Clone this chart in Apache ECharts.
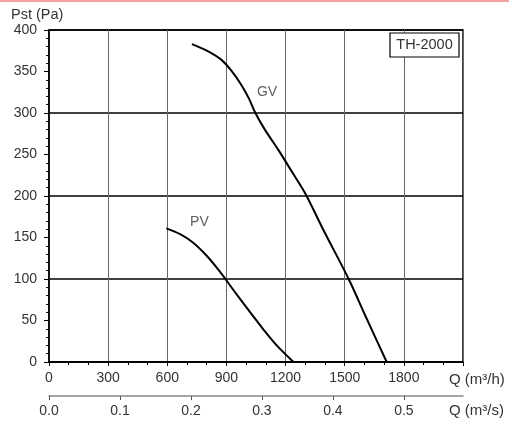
<!DOCTYPE html>
<html>
<head>
<meta charset="utf-8">
<script src="https://cdn.jsdelivr.net/npm/echarts@6/dist/echarts.min.js"></script>
<style>
html,body{margin:0;padding:0;background:#fff;}
#chart{width:509px;height:428px;}
</style>
</head>
<body>
<div id="chart"></div>
<script>
// Data
const flowTicks = [0, 300, 600, 900, 1200, 1500, 1800];          // Q (m3/h)
const flowSecTicks = [0.0, 0.1, 0.2, 0.3, 0.4, 0.5];             // Q (m3/s)
const gvFlow = [725, 810, 875, 925, 975, 1015, 1045, 1095, 1165, 1230, 1300, 1390, 1520, 1610, 1713];
const gvPressure = [383, 374, 364, 351, 334, 317, 301, 280, 255, 230, 203, 160, 100, 53, 0];
const pvFlow = [595, 665, 730, 800, 860, 895, 950, 1020, 1085, 1155, 1240];
const pvPressure = [161, 154, 144, 128, 111, 100, 82, 60, 40, 20, 0];
const curveLabels = ['GV', 'PV'];
const curveLabelFlow = [1106, 763];
const curveLabelPressure = [325, 168];
const modelName = 'TH-2000';

const FONT = 'Liberation Sans, Arial, sans-serif';
const TXT = '#333';
const xMax = 2100;

const zip = (a, b) => a.map((v, i) => [v, b[i]]);

const chart = echarts.init(document.getElementById('chart'), null, {renderer: 'canvas'});
chart.setOption({
  animation: false,
  backgroundColor: '#fff',
  grid: {left: 49, right: 46, top: 30, bottom: 66, show: true, borderColor: '#000', borderWidth: 1.5, backgroundColor: 'transparent'},
  xAxis: [
    {
      type: 'value', position: 'bottom', min: 0, max: xMax, interval: 300,
      axisLine: {show: true, onZero: false, lineStyle: {color: '#000', width: 1.5}},
      axisTick: {show: true, length: 4, lineStyle: {color: '#000'}},
      minorTick: {show: true, splitNumber: 3, length: 3, lineStyle: {color: '#000'}},
      axisLabel: {
        margin: 9, color: TXT, fontFamily: FONT, fontSize: 14,
        customValues: flowTicks,
        formatter: v => String(v)
      },
      splitLine: {show: true, lineStyle: {color: '#666', width: 1}}
    },
    {
      type: 'value', position: 'bottom', offset: 34, min: 0, max: xMax / 3600,
      axisLine: {show: true, onZero: false, lineStyle: {color: '#888', width: 1.5}},
      axisTick: {show: true, length: 4, customValues: flowSecTicks, lineStyle: {color: '#555'}},
      axisLabel: {
        margin: 8, color: TXT, fontFamily: FONT, fontSize: 14,
        customValues: flowSecTicks,
        formatter: v => v.toFixed(1)
      },
      splitLine: {show: false}
    }
  ],
  yAxis: [
    {
      type: 'value', min: 0, max: 400, interval: 50,
      axisLine: {show: true, onZero: false, lineStyle: {color: '#000', width: 1.5}},
      axisTick: {show: true, length: 5, lineStyle: {color: '#000'}},
      minorTick: {show: true, splitNumber: 5, length: 3, lineStyle: {color: '#000'}},
      axisLabel: {margin: 12, color: TXT, fontFamily: FONT, fontSize: 14},
      splitLine: {show: false}
    },
    {
      type: 'value', min: 0, max: 400, interval: 100, position: 'right',
      axisLine: {show: false}, axisTick: {show: false}, axisLabel: {show: false},
      splitLine: {show: true, lineStyle: {color: '#000', width: 1.5}}
    }
  ],
  series: [
    {
      name: 'GV', type: 'line', xAxisIndex: 0, yAxisIndex: 0,
      data: zip(gvFlow, gvPressure), smooth: 0.3, showSymbol: false, symbol: 'none',
      lineStyle: {color: '#000', width: 2}, z: 5
    },
    {
      name: 'PV', type: 'line', xAxisIndex: 0, yAxisIndex: 0,
      data: zip(pvFlow, pvPressure), smooth: 0.3, showSymbol: false, symbol: 'none',
      lineStyle: {color: '#000', width: 2}, z: 5
    },
    {
      name: 'labels', type: 'scatter', xAxisIndex: 0, yAxisIndex: 0,
      symbolSize: 0, silent: true,
      data: curveLabels.map((n, i) => ({name: n, value: [curveLabelFlow[i], curveLabelPressure[i]]})),
      label: {show: true, position: 'inside', formatter: p => p.name, color: TXT, fontFamily: FONT, fontSize: 14}
    }
  ],
  graphic: [
    {type: 'line', shape: {x1: 0, y1: 1, x2: 509, y2: 1}, style: {stroke: '#f2a3a3', lineWidth: 2}},
    {type: 'text', left: 11, top: 7, style: {text: 'Pst (Pa)', fill: TXT, font: '14.5px ' + FONT}},
    {type: 'text', left: 449, top: 372, style: {text: 'Q (m³/h)', fill: TXT, font: '15px ' + FONT}},
    {type: 'text', left: 449, top: 403, style: {text: 'Q (m³/s)', fill: TXT, font: '15px ' + FONT}},
    {type: 'rect', shape: {x: 390, y: 33, width: 69, height: 24}, style: {fill: '#fff', stroke: '#000', lineWidth: 1.2}, z: 10},
    {type: 'text', x: 424.5, y: 45, style: {text: modelName, fill: TXT, font: '14.5px ' + FONT, align: 'center', verticalAlign: 'middle'}, z: 11}
  ]
});
</script>
</body>
</html>
